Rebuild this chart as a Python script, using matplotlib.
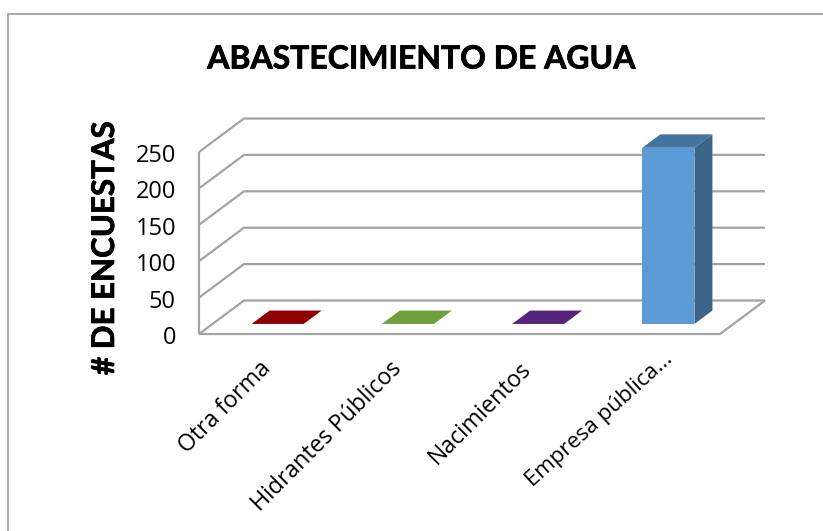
import matplotlib
matplotlib.use("Agg")
import matplotlib.pyplot as plt
import matplotlib.patheffects as pe
from matplotlib.patches import Polygon, Rectangle

# encuestas por forma de abastecimiento
categorias = ["Otra forma", "Hidrantes Públicos", "Nacimientos", "Empresa pública..."]
valores = [0, 0, 0, 242]
ticks = [0, 50, 100, 150, 200, 250]
colores = ["#5b9bd5", "#43749f", "#3a6589"]
colores_planos = ["#8f0000", "#70a03c", "#562478"]

W, H = 823, 531
GRIS = "#a3a3a3"

plt.rcParams["font.family"] = ["Lato", "DejaVu Sans"]

fig = plt.figure(figsize=(W / 100, H / 100), dpi=100)
# ejes: el plano frontal del grafico
ax = fig.add_axes([199 / W, 1 - 334 / H, 521 / W, 182 / H])
ax.set_xlim(0, 4)
ax.set_ylim(0, 250)
ax.axis("off")

# profundidad oblicua en unidades de datos
PROF_X = 45 / (521 / 4)
PROF_Y = 33.5 / (182 / 250)
ANCHO = 0.4


def linea(x, y, **kw):
    ax.plot(x, y, color=GRIS, lw=1.6, clip_on=False, solid_capstyle="butt", **kw)


# pared del fondo y lineas laterales
for t in ticks:
    linea([0, PROF_X, 4 + PROF_X], [t, t + PROF_Y, t + PROF_Y], zorder=1)
linea([0, 0], [0, 250], zorder=1)
linea([0, 4, 4 + PROF_X], [0, 0, PROF_Y], zorder=1)

# barras, con profundidad entre 0.3 y 0.7 del suelo
d0, d1 = 0.3, 0.7
for i, v in enumerate(valores):
    x0 = i + 0.5 - ANCHO / 2 + d0 * PROF_X
    x1 = x0 + ANCHO
    y0 = d0 * PROF_Y
    dx = (d1 - d0) * PROF_X
    dy = (d1 - d0) * PROF_Y
    tapa = colores_planos[i] if v == 0 else colores[1]
    if v > 0:
        ax.add_patch(Rectangle((x0, y0), ANCHO, v, fc=colores[0], ec="none", zorder=3, clip_on=False))
        ax.add_patch(Polygon([(x1, y0), (x1 + dx, y0 + dy), (x1 + dx, y0 + dy + v), (x1, y0 + v)],
                             fc=colores[2], ec="none", zorder=3, clip_on=False))
    ax.add_patch(Polygon([(x0, y0 + v), (x1, y0 + v), (x1 + dx, y0 + v + dy), (x0 + dx, y0 + v + dy)],
                         fc=tapa, ec="none", zorder=3, clip_on=False))

# etiquetas de los ejes
for t in ticks:
    ax.annotate(str(t), (0, t), xytext=(-23, -4), textcoords="offset pixels", ha="right",
                va="center", fontsize=17, family=["Open Sans", "DejaVu Sans"], color="black",
                annotation_clip=False)
for i, c in enumerate(categorias):
    # la ultima etiqueta va truncada y algo menos inclinada
    ultima = i == len(categorias) - 1
    ax.annotate(c, (i + 0.5, 0), xytext=(8, -15) if ultima else (-5, -23),
                textcoords="offset pixels", ha="right", va="top",
                rotation=42 if ultima else 45, rotation_mode="anchor",
                fontsize=16 if ultima else 16.7,
                family=["Open Sans", "DejaVu Sans"], color="black", annotation_clip=False)

negrita = [pe.withStroke(linewidth=0.5, foreground="black")]
fig.text(422 / W, 1 - 59 / H, "ABASTECIMIENTO DE AGUA", ha="center", va="center",
         fontsize=23, fontweight="bold", color="black", path_effects=negrita)
fig.text(105 / W, 1 - 248 / H, "# DE ENCUESTAS", ha="center", va="center", rotation=90,
         fontsize=22.5, fontweight="bold", color="black", path_effects=negrita)

# marco del grafico
fig.add_artist(plt.Line2D([8 / W, 8 / W, 1], [0, 1 - 13.5 / H, 1 - 13.5 / H],
                          color=GRIS, lw=1.3))

fig.savefig("out.png", dpi=100)
